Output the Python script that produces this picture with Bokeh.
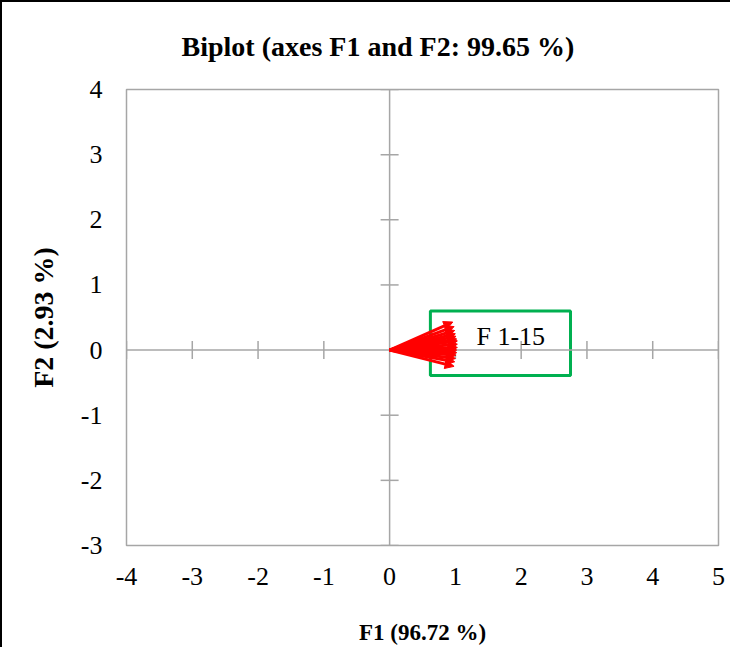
import math
from bokeh.plotting import figure
from bokeh.models import ColumnDataSource, Arrow, NormalHead, Span, Range1d, FixedTicker
from bokeh.core.properties import value
from bokeh.embed import file_html
from bokeh.resources import INLINE

# ---- data ----
title_text = "Biplot (axes F1 and F2: 99.65 %)"
x_label = "F1 (96.72 %)"
y_label = "F2 (2.93 %)"
x_ticks = [-4, -3, -2, -1, 0, 1, 2, 3, 4, 5]
y_ticks = [-3, -2, -1, 0, 1, 2, 3, 4]
var_names = ["F%d" % i for i in range(1, 16)]
f1_load = [0.96, 0.98, 0.99, 1.00, 1.01, 1.02, 1.03, 1.03, 1.03, 1.02, 1.02, 1.01, 1.00, 0.99, 0.98]
f2_load = [0.43, 0.36, 0.30, 0.25, 0.21, 0.17, 0.14, 0.09, 0.04, 0.00, -0.04, -0.08, -0.13, -0.18, -0.25]
group_label = "F 1-15"
group_box = dict(left=0.62, right=2.75, bottom=-0.39, top=0.60)
group_label_pos = (1.32, 0.21)

SERIF = "Liberation Serif"
GRAY = "#a6a6a6"

p = figure(width=730, height=647, output_backend="svg", toolbar_location=None,
           x_range=Range1d(-4, 5), y_range=Range1d(-3, 4),
           min_border_left=124, min_border_right=14, min_border_top=87, min_border_bottom=104,
           styles={"border-left": "2px solid #000", "border-top": "2px solid #000"})

p.title.text = title_text
p.title.align = "left"
p.title.offset = 55
p.title.text_font = SERIF
p.title.text_font_size = "28px"
p.title.text_font_style = "bold"
p.title.text_color = "black"
p.title.vertical_align = "top"
p.title.standoff = 51

p.grid.visible = False
p.outline_line_color = GRAY
p.outline_line_width = 1.5

for ax, ticks in ((p.xaxis, x_ticks), (p.yaxis, y_ticks)):
    ax.ticker = FixedTicker(ticks=ticks)
    ax.major_label_overrides = {t: str(t) for t in ticks}
    ax.major_tick_line_color = None
    ax.minor_tick_line_color = None
    ax.axis_line_color = None
    ax.major_label_text_font = SERIF
    ax.major_label_text_font_size = "26px"
    ax.major_label_text_color = "black"
    ax.axis_label_text_font = SERIF
    ax.axis_label_text_font_style = "bold"
    ax.axis_label_text_color = "black"

p.xaxis.axis_label = x_label
p.yaxis.axis_label = y_label
p.xaxis.axis_label_text_font_size = "23px"
p.yaxis.axis_label_text_font_size = "28px"
p.xaxis.major_label_standoff = 16
p.yaxis.major_label_standoff = 18
p.xaxis.axis_label_standoff = 32
p.yaxis.axis_label_standoff = 19

# zero lines
p.add_layout(Span(location=0, dimension="width", line_color=GRAY, line_width=1.5))
p.add_layout(Span(location=0, dimension="height", line_color=GRAY, line_width=1.5))

# tick marks on the zero lines
xt = [t for t in x_ticks if t != 0]
yt = [t for t in y_ticks if t != 0]
p.scatter(x=xt, y=[0] * len(xt), marker="dash", size=18, angle=math.pi / 2,
          line_color=GRAY, line_width=1.5)
p.scatter(x=[0] * len(yt), y=yt, marker="dash", size=18,
          line_color=GRAY, line_width=1.5)

# loading vectors
src = ColumnDataSource(dict(x0=[0] * len(f1_load), y0=[0] * len(f2_load),
                            x1=f1_load, y1=f2_load, name=var_names))
p.add_layout(Arrow(source=src, x_start="x0", y_start="y0", x_end="x1", y_end="y1",
                   line_color="#ff0000", line_width=3,
                   end=NormalHead(size=9, fill_color="#ff0000", line_color="#ff0000")))

# group box and label
p.quad(left=[group_box["left"]], right=[group_box["right"]],
       bottom=[group_box["bottom"]], top=[group_box["top"]],
       fill_alpha=0, line_color="#00b050", line_width=3)
p.text(x=[group_label_pos[0]], y=[group_label_pos[1]], text=[group_label],
       text_font=value(SERIF), text_font_size="26px", text_color="black",
       text_baseline="middle", text_align="left")

open("out.html", "w").write(file_html(p, INLINE))
